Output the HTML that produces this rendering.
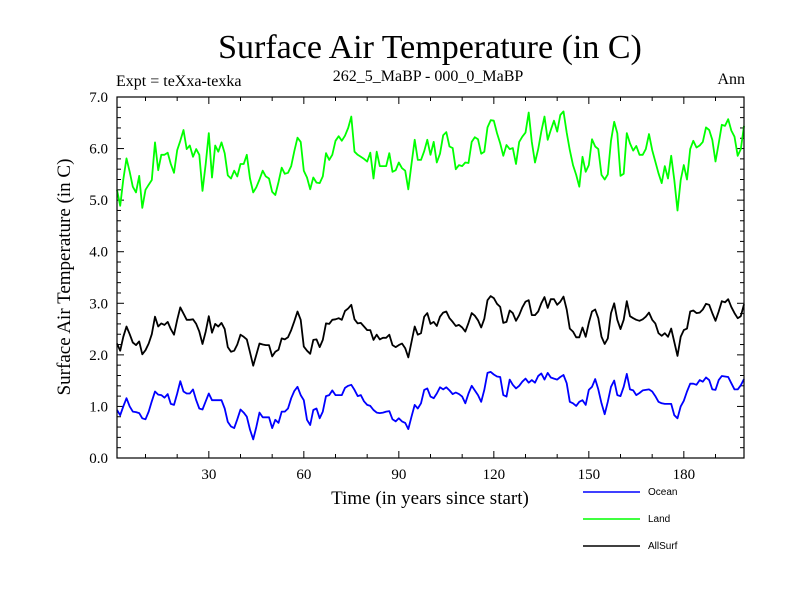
<!DOCTYPE html>
<html><head><meta charset="utf-8"><style>
body{margin:0;background:#fff;}
svg{display:block;}
text{font-family:"Liberation Serif",serif;fill:#000;}
.leg{font-family:"Liberation Sans",sans-serif;font-size:10px;}
</style></head><body>
<svg id="chart" width="800" height="600" viewBox="0 0 800 600" xmlns="http://www.w3.org/2000/svg">
<text x="430" y="58" font-size="34" text-anchor="middle">Surface Air Temperature (in C)</text>
<text x="116" y="86" font-size="16">Expt = teXxa-texka</text>
<text x="428" y="81" font-size="16" text-anchor="middle">262_5_MaBP - 000_0_MaBP</text>
<text x="745" y="84" font-size="16" text-anchor="end">Ann</text>
<text transform="translate(70,277) rotate(-90)" font-size="19" text-anchor="middle">Surface Air Temperature (in C)</text>
<text x="430" y="504" font-size="19" text-anchor="middle">Time (in years since start)</text>
<g id="ticks"></g>
<g id="series"></g>
<rect x="117" y="97" width="627" height="361" fill="none" stroke="#000" stroke-width="1.2"/>
<g>
<line x1="583" y1="492" x2="640" y2="492" stroke="#0000ff" stroke-width="1.5"/>
<text class="leg" x="648" y="495">Ocean</text>
<line x1="583" y1="519" x2="640" y2="519" stroke="#00ff00" stroke-width="1.5"/>
<text class="leg" x="648" y="522">Land</text>
<line x1="583" y1="546" x2="640" y2="546" stroke="#000" stroke-width="1.5"/>
<text class="leg" x="648" y="549">AllSurf</text>
</g>
</svg>
<script>
const yTickLabels = ["0.0","1.0","2.0","3.0","4.0","5.0","6.0","7.0"];
const xTickLabels = ["30","60","90","120","150","180"];
const land = [5.20,4.89,5.40,5.81,5.55,5.26,5.15,5.47,4.85,5.20,5.30,5.39,6.12,5.58,5.88,5.88,5.92,5.70,5.53,5.97,6.15,6.36,5.99,6.06,5.84,5.99,5.88,5.18,5.70,6.30,5.44,6.06,5.94,6.12,5.91,5.48,5.42,5.57,5.46,5.70,5.70,5.88,5.42,5.15,5.25,5.40,5.57,5.46,5.42,5.16,5.10,
5.35,5.63,5.51,5.53,5.66,5.95,6.21,6.13,5.57,5.44,5.21,5.44,5.34,5.33,5.46,5.91,5.78,5.88,6.15,6.24,6.15,6.25,6.40,6.62,5.94,5.88,5.84,5.80,5.75,5.92,5.42,5.94,5.66,5.66,5.66,5.91,5.55,5.58,5.73,5.62,5.57,5.21,5.70,6.17,5.78,5.78,5.95,6.17,5.88,6.13,
5.73,5.90,6.26,6.32,6.04,6.01,5.60,5.68,5.66,5.73,5.72,6.13,6.22,6.18,5.90,5.94,6.41,6.55,6.54,6.30,6.10,5.86,6.07,5.99,6.01,5.70,6.13,6.23,6.31,6.70,6.13,5.73,5.99,6.33,6.62,6.17,6.36,6.54,6.33,6.65,6.72,6.31,5.97,5.68,5.49,5.26,5.84,5.55,5.68,6.18,6.04,
5.99,5.49,5.40,5.50,6.15,6.52,6.30,5.47,5.51,6.30,6.10,5.96,6.05,5.88,5.88,5.99,6.28,5.97,5.75,5.52,5.33,5.66,5.42,5.86,5.39,4.80,5.39,5.68,5.40,5.99,6.15,6.02,6.06,6.13,6.41,6.36,6.17,5.75,6.10,6.46,6.44,6.57,6.35,6.23,5.86,5.99,6.44];
const allSurf = [2.22,2.08,2.35,2.55,2.40,2.24,2.19,2.26,2.01,2.09,2.22,2.40,2.74,2.55,2.61,2.58,2.64,2.50,2.39,2.68,2.92,2.80,2.68,2.68,2.69,2.60,2.45,2.21,2.45,2.75,2.43,2.60,2.55,2.62,2.50,2.15,2.06,2.08,2.20,2.39,2.35,2.30,2.05,1.79,2.00,2.22,2.20,2.19,2.19,1.97,2.06,
2.10,2.32,2.30,2.34,2.48,2.65,2.84,2.68,2.16,2.08,2.02,2.29,2.30,2.15,2.29,2.61,2.60,2.68,2.69,2.71,2.68,2.85,2.90,2.97,2.69,2.61,2.62,2.55,2.48,2.48,2.29,2.39,2.30,2.33,2.33,2.39,2.19,2.15,2.19,2.22,2.13,1.95,2.25,2.55,2.39,2.42,2.74,2.81,2.60,2.64,
2.56,2.74,2.82,2.84,2.71,2.64,2.56,2.58,2.53,2.45,2.62,2.81,2.76,2.67,2.53,2.70,3.06,3.14,3.10,2.99,2.93,2.62,2.64,2.86,2.81,2.66,2.77,2.92,3.03,3.06,2.77,2.77,2.84,3.00,3.12,2.91,3.08,3.08,2.97,3.03,3.13,2.88,2.51,2.45,2.34,2.34,2.53,2.35,2.62,2.84,2.88,
2.71,2.35,2.21,2.32,2.81,3.00,2.68,2.50,2.68,3.04,2.75,2.71,2.68,2.66,2.69,2.74,2.82,2.68,2.61,2.42,2.37,2.42,2.35,2.51,2.25,1.98,2.35,2.48,2.51,2.84,2.86,2.81,2.82,2.88,2.99,2.97,2.81,2.66,2.84,3.04,3.02,3.08,2.93,2.81,2.71,2.75,2.98];
const ocean = [0.93,0.83,1.00,1.16,1.00,0.90,0.89,0.87,0.77,0.75,0.90,1.10,1.29,1.23,1.22,1.17,1.24,1.05,1.03,1.25,1.49,1.29,1.25,1.25,1.33,1.12,0.96,0.94,1.10,1.25,1.12,1.12,1.12,1.12,0.96,0.70,0.61,0.58,0.75,0.94,0.88,0.80,0.55,0.36,0.60,0.88,0.79,0.79,0.79,0.58,0.74,
0.68,0.90,0.90,0.96,1.16,1.30,1.38,1.22,1.12,0.74,0.64,0.93,0.96,0.77,0.90,1.20,1.22,1.31,1.22,1.22,1.22,1.36,1.40,1.42,1.32,1.20,1.22,1.10,1.03,1.01,0.93,0.88,0.87,0.88,0.90,0.91,0.75,0.71,0.77,0.71,0.68,0.56,0.80,1.03,0.96,1.06,1.32,1.35,1.19,1.16,
1.25,1.37,1.33,1.37,1.31,1.24,1.27,1.24,1.19,1.06,1.25,1.40,1.31,1.22,1.09,1.32,1.65,1.67,1.62,1.58,1.57,1.22,1.19,1.52,1.42,1.35,1.40,1.48,1.54,1.46,1.51,1.46,1.59,1.64,1.52,1.65,1.56,1.54,1.52,1.57,1.61,1.45,1.09,1.06,1.01,1.09,1.12,1.03,1.32,1.38,1.53,
1.33,1.06,0.85,1.09,1.38,1.50,1.22,1.20,1.38,1.63,1.33,1.31,1.22,1.26,1.31,1.32,1.33,1.29,1.20,1.09,1.06,1.05,1.05,1.05,0.83,0.77,1.00,1.11,1.29,1.44,1.44,1.42,1.51,1.48,1.56,1.51,1.33,1.32,1.51,1.59,1.58,1.57,1.45,1.33,1.33,1.41,1.53];

const X0=117, X1=744, Y0=458, Y1=97, XMIN=1, XMAX=199, YMIN=0, YMAX=7;
function xs(v){return X0+(v-XMIN)/(XMAX-XMIN)*(X1-X0);}
function ys(v){return Y0-(v-YMIN)/(YMAX-YMIN)*(Y0-Y1);}
const NS="http://www.w3.org/2000/svg";
const tg=document.getElementById('ticks');
function ln(x1,y1,x2,y2){const l=document.createElementNS(NS,'line');l.setAttribute('x1',x1);l.setAttribute('y1',y1);l.setAttribute('x2',x2);l.setAttribute('y2',y2);l.setAttribute('stroke','#000');l.setAttribute('stroke-width','1');


tg.appendChild(l);}
for(let i=0;i<=35;i++){const v=i*0.2,y=ys(v),L=(i%5==0)?7:4;ln(X0,y,X0+L,y);ln(X1,y,X1-L,y);}
for(let v=10;v<XMAX;v+=10){const x=xs(v),L=(v%30==0)?7:4;ln(x,Y0,x,Y0-L);ln(x,Y1,x,Y1+L);}
yTickLabels.forEach((s,i)=>{const t=document.createElementNS(NS,'text');t.setAttribute('x',108);t.setAttribute('y',ys(parseFloat(s))+5);t.setAttribute('font-size','15');t.setAttribute('text-anchor','end');t.textContent=s;


tg.appendChild(t);});
xTickLabels.forEach(s=>{const t=document.createElementNS(NS,'text');t.setAttribute('x',xs(parseFloat(s)));t.setAttribute('y',479);t.setAttribute('font-size','15');t.setAttribute('text-anchor','middle');t.textContent=s;


tg.appendChild(t);});
const sg=document.getElementById('series');
function draw(arr,color,name){const p=document.createElementNS(NS,'polyline');p.setAttribute('points',arr.map((v,i)=>xs(i+1).toFixed(1)+','+ys(v).toFixed(1)).join(' '));p.setAttribute('fill','none');p.setAttribute('stroke',color);p.setAttribute('stroke-width','1.8');p.setAttribute('stroke-linejoin','round');


sg.appendChild(p);}
draw(land,'#00ff00','land-line');
draw(allSurf,'#000000','allsurf-line');
draw(ocean,'#0000ff','ocean-line');
</script>
</body></html>
